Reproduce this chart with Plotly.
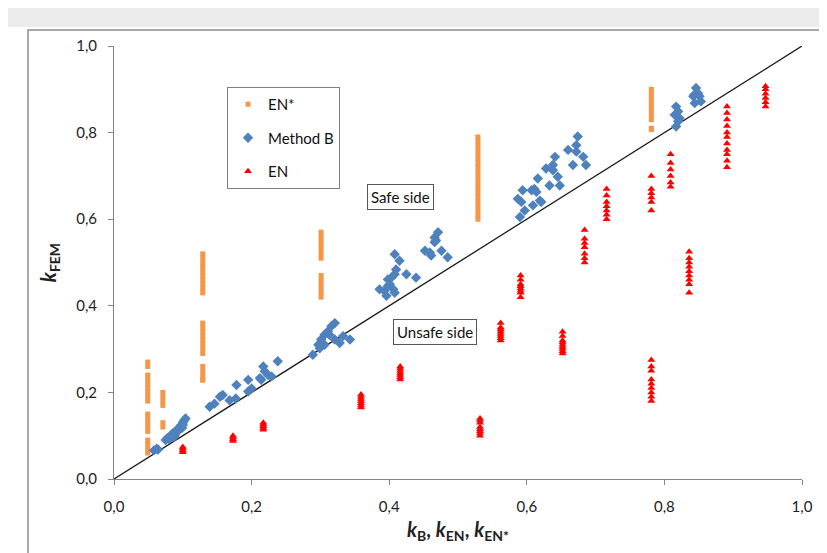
import plotly.graph_objects as go

# ---------------- data ----------------
en_star_x = ([0.049] * 18 + [0.071] * 6 + [0.129] * 23 + [0.301] * 13 +
             [0.529] * 20 + [0.781] * 10)
en_star_y = ([0.27, 0.26, 0.24, 0.23, 0.22, 0.21, 0.20, 0.19, 0.18, 0.15, 0.14, 0.13, 0.12, 0.11, 0.09, 0.08, 0.07, 0.06] +
             [0.20, 0.19, 0.18, 0.17, 0.13, 0.12] +
             [0.52, 0.51, 0.50, 0.49, 0.48, 0.47, 0.46, 0.45, 0.44, 0.43, 0.36, 0.35, 0.34, 0.33, 0.32, 0.31, 0.30, 0.29,
              0.26, 0.25, 0.24, 0.23, 0.228] +
             [0.57, 0.56, 0.55, 0.54, 0.53, 0.52, 0.51, 0.47, 0.46, 0.45, 0.44, 0.43, 0.42] +
             [0.79, 0.78, 0.77, 0.76, 0.75, 0.74, 0.73, 0.72, 0.71, 0.70, 0.69, 0.68, 0.67, 0.66, 0.65, 0.64, 0.63,
              0.62, 0.61, 0.60] +
             [0.90, 0.89, 0.88, 0.87, 0.86, 0.85, 0.84, 0.83, 0.81, 0.807])

method_b_x = [0.058, 0.062, 0.064, 0.075, 0.078, 0.080, 0.083, 0.085, 0.088, 0.090, 0.092, 0.094, 0.096, 0.098,
              0.100, 0.102, 0.104, 0.099, 0.087, 0.100,
              0.139, 0.146, 0.154, 0.158, 0.168, 0.178, 0.177, 0.195, 0.195, 0.200, 0.212, 0.217, 0.219, 0.224,
              0.214, 0.238, 0.229,
              0.289, 0.297, 0.301, 0.306, 0.311, 0.316, 0.321, 0.313, 0.321, 0.328, 0.333, 0.343, 0.306, 0.299,
              0.386, 0.393, 0.396, 0.398, 0.401, 0.406, 0.408, 0.410, 0.408, 0.408, 0.415, 0.425, 0.439, 0.403, 0.398,
              0.452, 0.461, 0.459, 0.466, 0.466, 0.471, 0.476, 0.485, 0.468,
              0.590, 0.592, 0.587, 0.597, 0.594, 0.607, 0.611, 0.614, 0.609, 0.619, 0.621, 0.616, 0.633, 0.628,
              0.638, 0.638, 0.641, 0.645, 0.648, 0.660, 0.667, 0.672, 0.674, 0.672, 0.682, 0.686,
              0.817, 0.820, 0.815, 0.822, 0.817, 0.820, 0.844, 0.846, 0.849, 0.842, 0.853, 0.844, 0.851]
method_b_y = [0.066, 0.070, 0.068, 0.090, 0.095, 0.092, 0.100, 0.105, 0.100, 0.110, 0.115, 0.112, 0.120, 0.125,
              0.130, 0.135, 0.140, 0.118, 0.097, 0.125,
              0.167, 0.174, 0.190, 0.194, 0.182, 0.217, 0.186, 0.229, 0.202, 0.209, 0.233, 0.260, 0.249, 0.240,
              0.229, 0.272, 0.237,
              0.287, 0.310, 0.322, 0.333, 0.341, 0.353, 0.360, 0.333, 0.322, 0.314, 0.330, 0.322, 0.310, 0.302,
              0.438, 0.434, 0.423, 0.461, 0.450, 0.438, 0.430, 0.484, 0.473, 0.519, 0.504, 0.473, 0.465, 0.465, 0.446,
              0.527, 0.516, 0.523, 0.547, 0.558, 0.570, 0.527, 0.512, 0.551,
              0.605, 0.640, 0.647, 0.620, 0.667, 0.667, 0.670, 0.663, 0.632, 0.643, 0.640, 0.694, 0.678, 0.717,
              0.725, 0.713, 0.744, 0.698, 0.678, 0.760, 0.725, 0.771, 0.791, 0.756, 0.744, 0.725,
              0.860, 0.849, 0.841, 0.833, 0.814, 0.826, 0.868, 0.903, 0.891, 0.884, 0.872, 0.888, 0.884]

en_groups_x = [0.100, 0.173, 0.217, 0.359, 0.416, 0.532, 0.562, 0.591, 0.652, 0.684, 0.716, 0.781, 0.781,
               0.809, 0.836, 0.891, 0.947]
en_groups_y = [
    [0.062, 0.066, 0.070, 0.074],
    [0.088, 0.092, 0.096, 0.100],
    [0.114, 0.118, 0.122, 0.126, 0.130],
    [0.165, 0.170, 0.175, 0.180, 0.185, 0.190, 0.195],
    [0.230, 0.235, 0.240, 0.245, 0.250, 0.255, 0.260],
    [0.100, 0.105, 0.110, 0.115, 0.120, 0.130, 0.135, 0.140],
    [0.320, 0.325, 0.330, 0.335, 0.340, 0.345, 0.350, 0.360],
    [0.420, 0.430, 0.435, 0.440, 0.445, 0.450, 0.460, 0.470],
    [0.290, 0.295, 0.300, 0.305, 0.310, 0.315, 0.320, 0.330, 0.340],
    [0.500, 0.510, 0.520, 0.535, 0.545, 0.555, 0.575],
    [0.600, 0.610, 0.620, 0.630, 0.640, 0.655, 0.670],
    [0.180, 0.190, 0.200, 0.210, 0.220, 0.230, 0.250, 0.260, 0.275],
    [0.620, 0.640, 0.650, 0.660, 0.670, 0.700],
    [0.675, 0.685, 0.700, 0.715, 0.730, 0.750],
    [0.430, 0.450, 0.460, 0.470, 0.480, 0.490, 0.500, 0.510, 0.525],
    [0.720, 0.735, 0.750, 0.760, 0.775, 0.790, 0.800, 0.815, 0.830, 0.845, 0.860],
    [0.860, 0.870, 0.880, 0.890, 0.900, 0.907],
]
en_x = [gx for gx, ys in zip(en_groups_x, en_groups_y) for _ in ys]
en_y = [y for ys in en_groups_y for y in ys]

diag_x = [0.0, 1.0]
diag_y = [0.0, 1.0]

tick_vals = [0.0, 0.2, 0.4, 0.6, 0.8, 1.0]
tick_text = ["0,0", "0,2", "0,4", "0,6", "0,8", "1,0"]

FONT = "Lato, 'Open Sans', sans-serif"

# ---------------- figure ----------------
fig = go.Figure()
fig.add_trace(go.Scatter(x=diag_x, y=diag_y, mode="lines", line=dict(color="#1a1a1a", width=1.3),
                         showlegend=False, hoverinfo="skip"))
fig.add_trace(go.Scatter(x=en_star_x, y=en_star_y, mode="markers", name="EN*", legendgroup="a",
                         marker=dict(symbol="square", size=5, color="#F79646")))
fig.add_trace(go.Scatter(x=method_b_x, y=method_b_y, mode="markers", name="Method B", legendgroup="b",
                         marker=dict(symbol="diamond", size=8, color="#4F81BD")))
fig.add_trace(go.Scatter(x=en_x, y=en_y, mode="markers", name="EN", legendgroup="c",
                         marker=dict(symbol="triangle-up", size=7, color="#FF0000")))

axis_common = dict(range=[0, 1], tickvals=tick_vals, ticktext=tick_text, showgrid=False, zeroline=False,
                   showline=True, linecolor="#868686", linewidth=1, ticks="outside", ticklen=5,
                   tickcolor="#868686", tickfont=dict(family=FONT, size=15, color="#222"))

fig.update_xaxes(**axis_common, ticklabelstandoff=9,
                 title=dict(text="<b><i>k</i><sub>B</sub>, <i>k</i><sub>EN</sub>, <i>k</i><sub>EN*</sub></b>",
                            font=dict(family=FONT, size=20, color="#222"), standoff=8))
fig.update_yaxes(**axis_common, ticklabelstandoff=8,
                 title=dict(text="<b><i>k</i><sub>FEM</sub></b>",
                            font=dict(family=FONT, size=20, color="#222"), standoff=14))

fig.add_annotation(x=(392 - 106) / 688, y=(471 - 189) / 433, xref="paper", yref="paper",
                   text="Safe side", showarrow=False, font=dict(family=FONT, size=15, color="#111"),
                   bordercolor="#555", borderwidth=1, borderpad=3, bgcolor="white")
fig.add_annotation(x=(427 - 106) / 688, y=(471 - 324) / 433, xref="paper", yref="paper",
                   text="Unsafe side", showarrow=False, font=dict(family=FONT, size=15, color="#111"),
                   bordercolor="#555", borderwidth=1, borderpad=3, bgcolor="white")

# outer frame and top band
fig.add_shape(type="rect", xref="paper", yref="paper",
              x0=-0.2, x1=1.1, y0=(471 - 0) / 433, y1=(471 - 19) / 433,
              fillcolor="#ececec", line=dict(width=0), layer="below")
fig.add_shape(type="rect", xref="paper", yref="paper",
              x0=(20 - 106) / 688, x1=(818 - 106) / 688, y0=(471 - 550) / 433, y1=(471 - 22) / 433,
              line=dict(color="#8c8c8c", width=1.5), layer="below")

fig.update_layout(
    width=827, height=553,
    margin=dict(l=106, r=33, t=38, b=82),
    paper_bgcolor="white", plot_bgcolor="white",
    font=dict(family=FONT),
    showlegend=True,
    legend=dict(x=(219 - 106) / 688, y=(471 - 79) / 433, xanchor="left", yanchor="top",
                bordercolor="#7f7f7f", borderwidth=1, bgcolor="white",
                font=dict(family=FONT, size=15, color="#111"), tracegroupgap=11,
                itemsizing="trace"),
)

fig.write_html("out.html")
